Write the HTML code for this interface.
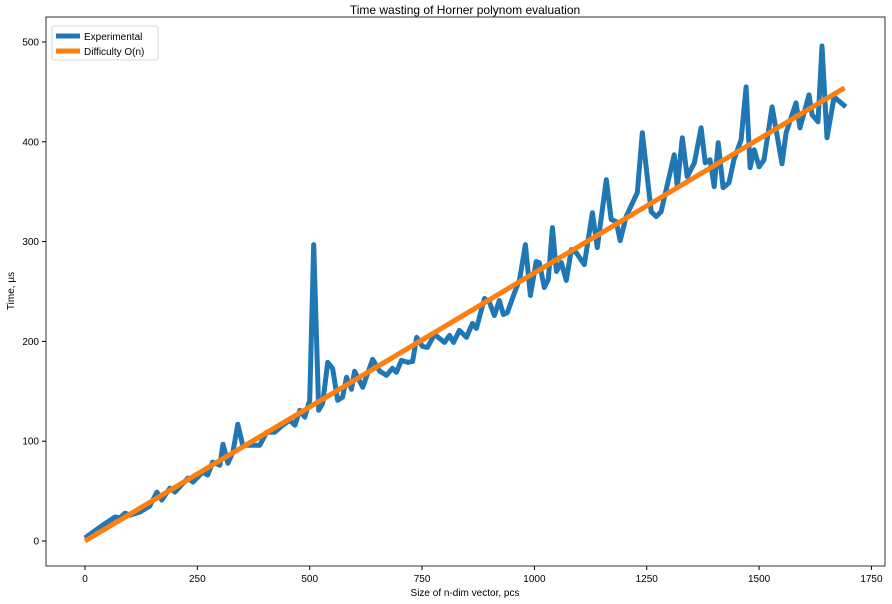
<!DOCTYPE html>
<html><head><meta charset="utf-8"><style>
body{margin:0;background:#fff;}
svg{display:block;font-family:"Liberation Sans","DejaVu Sans",sans-serif;}
</style></head><body>
<svg id="chart" width="892" height="604">
<text x="465" y="14" font-size="12" text-anchor="middle">Time wasting of Horner polynom evaluation</text>
<text x="465" y="596" font-size="10" text-anchor="middle">Size of n-dim vector, pcs</text>
<text x="14" y="291" font-size="10" text-anchor="middle" transform="rotate(-90 14 291)">Time, µs</text>
<g id="ticks"></g>
<g id="series"></g>
<rect x="46" y="17" width="839" height="549" fill="none" stroke="#000" stroke-width="0.8"/>
<g>
<rect x="52" y="26" width="106" height="34" rx="2" fill="#fff" fill-opacity="0.8" stroke="#ccc" stroke-width="0.8"/>
<line x1="56" y1="36" x2="80" y2="36" stroke="#1f77b4" stroke-width="5"/>
<text x="84" y="40" font-size="10">Experimental</text>
<line x1="56" y1="51" x2="80" y2="51" stroke="#ff7f0e" stroke-width="5"/>
<text x="84" y="55" font-size="10">Difficulty O(n)</text>
</g>
</svg>
<script>
const expX=[0,18,40,67,78,89,100,122,144,160,171,189,200,229,240,262,273,284,300,307,318,329,340,351,371,389,404,422,440,456,467,478,489,500,509,520,529,540,551,562,573,582,593,600,618,640,656,671,684,693,704,718,729,738,751,762,778,800,811,820,833,849,862,871,889,900,911,922,931,940,956,967,980,991,1004,1011,1022,1031,1040,1049,1060,1071,1082,1093,1111,1129,1140,1160,1171,1182,1191,1204,1229,1240,1260,1271,1282,1311,1318,1329,1340,1356,1371,1380,1391,1400,1409,1420,1433,1444,1460,1471,1480,1489,1500,1511,1529,1551,1560,1582,1591,1611,1618,1631,1640,1651,1667,1693];
const expY=[3,9,16,24,23,28,26,29,35,49,41,53,49,63,59,69,66,79,76,97,78,89,117,96,96,96,109,109,116,121,116,131,124,141,297,131,138,179,173,141,144,164,152,170,154,182,170,166,173,169,181,179,180,204,195,194,207,199,206,199,211,204,218,213,243,239,226,241,227,229,249,262,297,246,280,279,254,262,314,270,279,261,292,289,277,329,294,362,322,320,301,325,349,409,330,325,330,387,355,404,365,379,414,379,382,355,399,354,359,382,402,455,374,392,375,382,435,378,409,439,414,447,427,420,496,404,445,435];
const fitX=[0,1690];
const fitY=[0,454];
const xTicks=[0,250,500,750,1000,1250,1500,1750];
const yTicks=[0,100,200,300,400,500];
const sx=v=>85+v*0.4494;
const sy=v=>541-v*0.998;
const NS="http://www.w3.org/2000/svg";
const tg=document.getElementById('ticks');
xTicks.forEach(t=>{
  const l=document.createElementNS(NS,'line');
  l.setAttribute('x1',sx(t));l.setAttribute('x2',sx(t));l.setAttribute('y1',566);l.setAttribute('y2',570);l.setAttribute('stroke','#000');
  
  
  tg.appendChild(l);
  const tx=document.createElementNS(NS,'text');
  tx.setAttribute('x',sx(t));tx.setAttribute('y',582);tx.setAttribute('font-size','10');tx.setAttribute('text-anchor','middle');tx.textContent=t;
  
  
  tg.appendChild(tx);
});
yTicks.forEach(t=>{
  const l=document.createElementNS(NS,'line');
  l.setAttribute('x1',42);l.setAttribute('x2',46);l.setAttribute('y1',sy(t));l.setAttribute('y2',sy(t));l.setAttribute('stroke','#000');
  
  
  tg.appendChild(l);
  const tx=document.createElementNS(NS,'text');
  tx.setAttribute('x',39);tx.setAttribute('y',sy(t)+3.5);tx.setAttribute('font-size','10');tx.setAttribute('text-anchor','end');tx.textContent=t;
  
  
  tg.appendChild(tx);
});
const sg=document.getElementById('series');
function path(xs,ys,color,name){
  const p=document.createElementNS(NS,'path');
  p.setAttribute('d',xs.map((x,i)=>(i?'L':'M')+sx(x).toFixed(1)+' '+sy(ys[i]).toFixed(1)).join(' '));
  p.setAttribute('fill','none');p.setAttribute('stroke',color);p.setAttribute('stroke-width','5');p.setAttribute('stroke-linejoin','round');
  
  
  sg.appendChild(p);
}
path(expX,expY,'#1f77b4','experimental-line');
path(fitX,fitY,'#ff7f0e','difficulty-line');
</script>
</body></html>
